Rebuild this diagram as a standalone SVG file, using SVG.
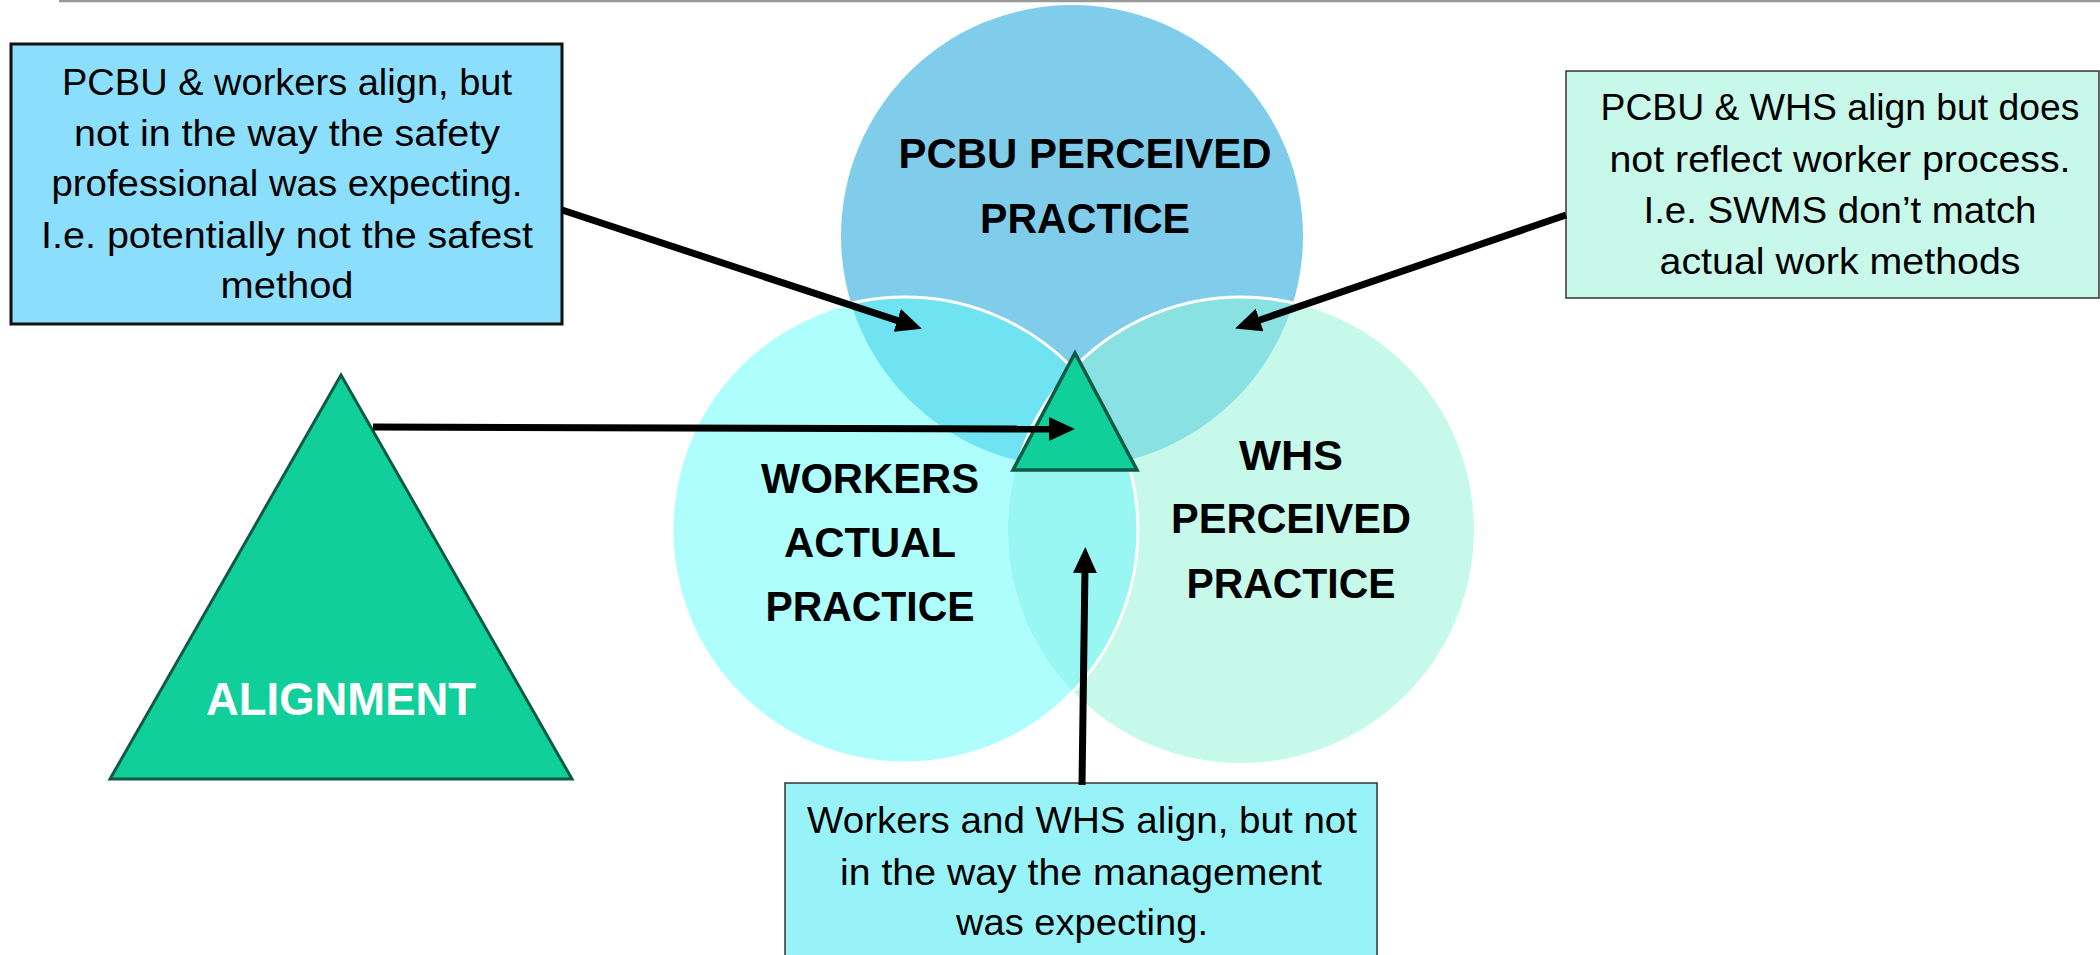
<svg xmlns="http://www.w3.org/2000/svg" width="2100" height="955" viewBox="0 0 2100 955">
  <style>
    .box-text { font-family: "Liberation Sans", Arial, sans-serif; font-size: 37px; fill: #000; text-anchor: middle; }
    .label { font-family: "Liberation Sans", Arial, sans-serif; font-size: 43px; font-weight: bold; fill: #000; text-anchor: middle; }
    .conn { stroke: #000; stroke-width: 7; fill: none; marker-end: url(#arrow); }
    .white-edge { fill: none; stroke: #fff; stroke-width: 3; }
  </style>
  <defs>
    <marker id="arrow" markerUnits="userSpaceOnUse" markerWidth="26" markerHeight="24" refX="6" refY="12" orient="auto">
      <path d="M0,0 L26,12 L0,24 Z" fill="#000"/>
    </marker>
    <clipPath id="clipP"><circle cx="1072" cy="236" r="231"/></clipPath>
    <clipPath id="clipH"><circle cx="1241" cy="530" r="233"/></clipPath>
  </defs>

  <rect x="0" y="0" width="2100" height="955" fill="#fff"/>
  <line x1="59" y1="1" x2="2100" y2="1" stroke="#999" stroke-width="2.5"/>

  <g id="venn">
    <g id="pcbu-circle">
      <circle cx="1072" cy="236" r="231" fill="#80CDEB"/>
    </g>
    <g id="whs-circle">
      <circle cx="1241" cy="530" r="233" fill="#C6F9E9"/>
    </g>
    <g id="workers-circle">
      <circle cx="905" cy="530" r="233" fill="#AEFEFE"/>
    </g>
    <g id="overlaps">
      <circle cx="905" cy="530" r="233" fill="#70E3F2" clip-path="url(#clipP)"/>
      <circle cx="1241" cy="530" r="233" fill="#89E1E1" clip-path="url(#clipP)"/>
      <circle cx="905" cy="530" r="233" fill="#98F7F2" clip-path="url(#clipH)"/>
      <circle cx="1241" cy="530" r="233" class="white-edge" clip-path="url(#clipP)"/>
      <circle cx="905" cy="530" r="233" class="white-edge"/>
    </g>
    <g id="pcbu-label">
      <text class="label" x="1085" y="168" textLength="373" lengthAdjust="spacingAndGlyphs">PCBU PERCEIVED</text>
      <text class="label" x="1085" y="233" textLength="210" lengthAdjust="spacingAndGlyphs">PRACTICE</text>
    </g>
    <g id="workers-label">
      <text class="label" x="870" y="493" textLength="218" lengthAdjust="spacingAndGlyphs">WORKERS</text>
      <text class="label" x="870" y="557" textLength="172" lengthAdjust="spacingAndGlyphs">ACTUAL</text>
      <text class="label" x="870" y="621" textLength="209" lengthAdjust="spacingAndGlyphs">PRACTICE</text>
    </g>
    <g id="whs-label">
      <text class="label" x="1291" y="470" textLength="104" lengthAdjust="spacingAndGlyphs">WHS</text>
      <text class="label" x="1291" y="533" textLength="240" lengthAdjust="spacingAndGlyphs">PERCEIVED</text>
      <text class="label" x="1291" y="598" textLength="209" lengthAdjust="spacingAndGlyphs">PRACTICE</text>
    </g>
  </g>

  <g id="center-triangle">
    <polygon points="1075,353 1137,470 1013,470" fill="#11CF9B" stroke="#0E5A45" stroke-width="3.5" stroke-linejoin="miter"/>
  </g>

  <g id="alignment">
    <polygon points="341,375 572,779 110,779" fill="#11CF9B" stroke="#0E5A45" stroke-width="3"/>
    <text x="341" y="715" font-family="Liberation Sans, Arial, sans-serif" font-size="46" font-weight="bold" fill="#fff" text-anchor="middle" textLength="270" lengthAdjust="spacingAndGlyphs">ALIGNMENT</text>
  </g>

  <g id="box-pcbu-workers">
    <rect x="11" y="44" width="551" height="280" fill="#8BDFFC" stroke="#111" stroke-width="3"/>
    <text class="box-text" x="287" y="95" textLength="450" lengthAdjust="spacingAndGlyphs">PCBU &amp; workers align, but</text>
    <text class="box-text" x="287" y="146" textLength="426" lengthAdjust="spacingAndGlyphs">not in the way the safety</text>
    <text class="box-text" x="287" y="196" textLength="471" lengthAdjust="spacingAndGlyphs">professional was expecting.</text>
    <text class="box-text" x="287" y="248" textLength="492" lengthAdjust="spacingAndGlyphs">I.e. potentially not the safest</text>
    <text class="box-text" x="287" y="298" textLength="133" lengthAdjust="spacingAndGlyphs">method</text>
  </g>

  <g id="box-pcbu-whs">
    <rect x="1566" y="71" width="533" height="227" fill="#C8F8EA" stroke="#333" stroke-width="1.5"/>
    <text class="box-text" x="1840" y="120" textLength="479" lengthAdjust="spacingAndGlyphs">PCBU &amp; WHS align but does</text>
    <text class="box-text" x="1840" y="172" textLength="461" lengthAdjust="spacingAndGlyphs">not reflect worker process.</text>
    <text class="box-text" x="1840" y="223" textLength="393" lengthAdjust="spacingAndGlyphs">I.e. SWMS don’t match</text>
    <text class="box-text" x="1840" y="274" textLength="361" lengthAdjust="spacingAndGlyphs">actual work methods</text>
  </g>

  <g id="box-workers-whs">
    <rect x="785" y="783" width="592" height="180" fill="#98F3F9" stroke="#333" stroke-width="1.5"/>
    <text class="box-text" x="1082" y="833" textLength="550" lengthAdjust="spacingAndGlyphs">Workers and WHS align, but not</text>
    <text class="box-text" x="1081" y="885" textLength="482" lengthAdjust="spacingAndGlyphs">in the way the management</text>
    <text class="box-text" x="1082" y="935" textLength="252" lengthAdjust="spacingAndGlyphs">was expecting.</text>
  </g>

  <g id="connectors">
    <path class="conn" d="M562,210 L902.9,322.4"/>
    <path class="conn" d="M1566,215 L1254,322"/>
    <path class="conn" d="M373,427 L1055,429"/>
    <path class="conn" d="M1082,785 L1085,567"/>
  </g>
</svg>
